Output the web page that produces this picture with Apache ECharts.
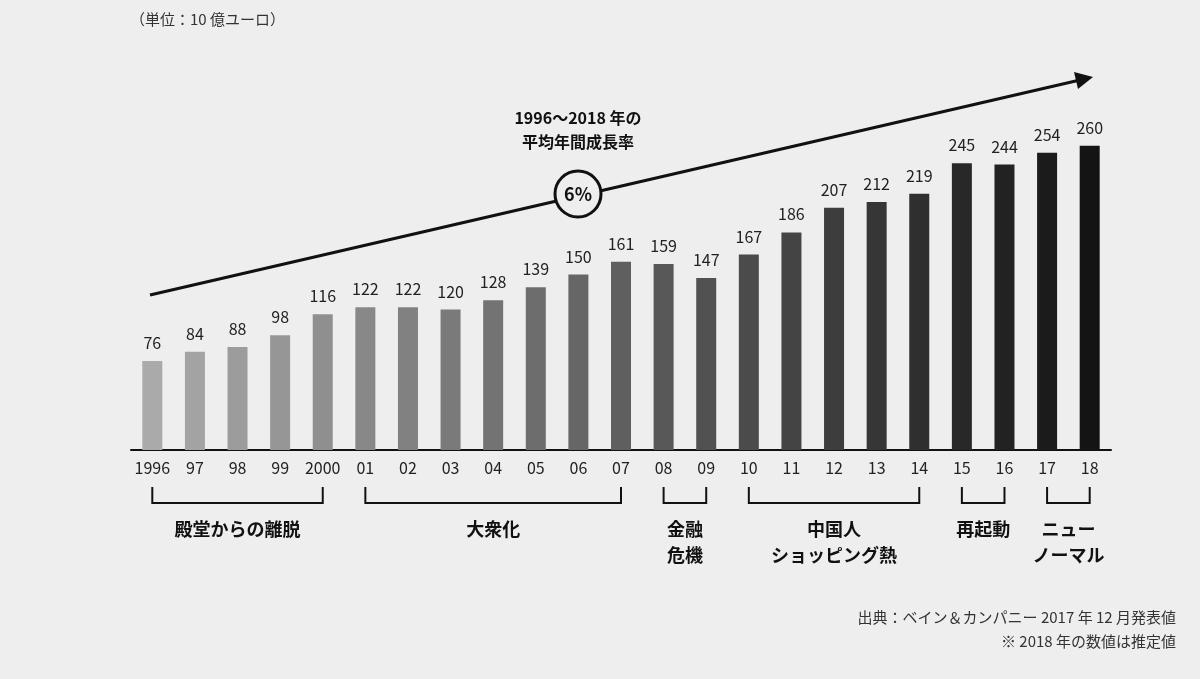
<!DOCTYPE html>
<html lang="ja">
<head>
<meta charset="UTF-8">
<title>index</title>
<script src="https://cdn.jsdelivr.net/npm/echarts@6/dist/echarts.min.js"></script>
<style>body{margin:0;background:#eeeeee}</style>
</head>
<body>
<div id="main" style="width:1200px;height:679px;"></div>
<script>
var years = ['1996','97','98','99','2000','01','02','03','04','05','06','07','08','09','10','11','12','13','14','15','16','17','18'];
var sales = [76,84,88,98,116,122,122,120,128,139,150,161,159,147,167,186,207,212,219,245,244,254,260];
var groups = [[0,4,'殿堂からの離脱'],[5,11,'大衆化'],[12,13,'金融\n危機'],[14,18,'中国人\nショッピング熱'],[19,20,'再起動'],[21,22,'ニュー\nノーマル']];
var FONT = '"Noto Sans CJK JP", "Noto Sans", sans-serif';

var colors = sales.map(function (v, i) {
  var g = Math.round(170 - i * 150 / 22);
  return 'rgb(' + g + ',' + g + ',' + g + ')';
});

var chart = echarts.init(document.getElementById('main'));
chart.setOption({
  backgroundColor: '#eeeeee',
  animation: false,
  grid: { left: 131, right: 89, top: 99, bottom: 229 },
  xAxis: {
    type: 'category', data: years,
    axisLine: { lineStyle: { color: '#111', width: 2 } },
    axisTick: { show: false },
    axisLabel: { interval: 0, color: '#222', fontSize: 16, margin: 10, fontFamily: FONT }
  },
  yAxis: { type: 'value', min: 0, max: 300, show: false },
  series: [{
    type: 'bar', barWidth: 20,
    data: sales.map(function (v, i) { return { value: v, itemStyle: { color: colors[i] } }; }),
    label: { show: true, position: 'top', distance: 10, color: '#222', fontSize: 16, fontFamily: FONT }
  }]
});

var g = [];
g.push({ type: 'text', x: 130, y: 12, style: { text: '（単位：10 億ユーロ）', fill: '#333', font: '15px ' + FONT } });
g.push({ type: 'text', x: 1176, y: 610, style: { text: '出典：ベイン＆カンパニー 2017 年 12 月発表値', fill: '#333', font: '15px ' + FONT, align: 'right' } });
g.push({ type: 'text', x: 1176, y: 634, style: { text: '※ 2018 年の数値は推定値', fill: '#333', font: '15px ' + FONT, align: 'right' } });
// trend arrow
g.push({ type: 'line', shape: { x1: 150, y1: 295, x2: 1080, y2: 80 }, style: { stroke: '#111', lineWidth: 3 } });
g.push({ type: 'polygon', shape: { points: [[1093, 77], [1074, 72], [1078, 89]] }, style: { fill: '#111' } });
g.push({ type: 'circle', shape: { cx: 578, cy: 194, r: 23 }, style: { fill: '#eeeeee', stroke: '#111', lineWidth: 3 } });
g.push({ type: 'text', x: 578, y: 194, style: { text: '6%', fill: '#111', font: 'bold 18px ' + FONT, align: 'center', verticalAlign: 'middle' } });
g.push({ type: 'text', x: 578, y: 130, style: { text: '1996～2018 年の\n平均年間成長率', fill: '#111', font: 'bold 16px ' + FONT, align: 'center', verticalAlign: 'middle', lineHeight: 24 } });

groups.forEach(function (gr) {
  var x1 = chart.convertToPixel({ xAxisIndex: 0 }, years[gr[0]]);
  var x2 = chart.convertToPixel({ xAxisIndex: 0 }, years[gr[1]]);
  g.push({ type: 'polyline', shape: { points: [[x1, 487], [x1, 503], [x2, 503], [x2, 487]] }, style: { stroke: '#111', lineWidth: 2, fill: null } });
  g.push({ type: 'text', x: (x1 + x2) / 2, y: 516, style: { text: gr[2], fill: '#111', font: 'bold 18px ' + FONT, align: 'center', verticalAlign: 'top', lineHeight: 26 } });
});
chart.setOption({ graphic: g });
</script>
</body>
</html>
